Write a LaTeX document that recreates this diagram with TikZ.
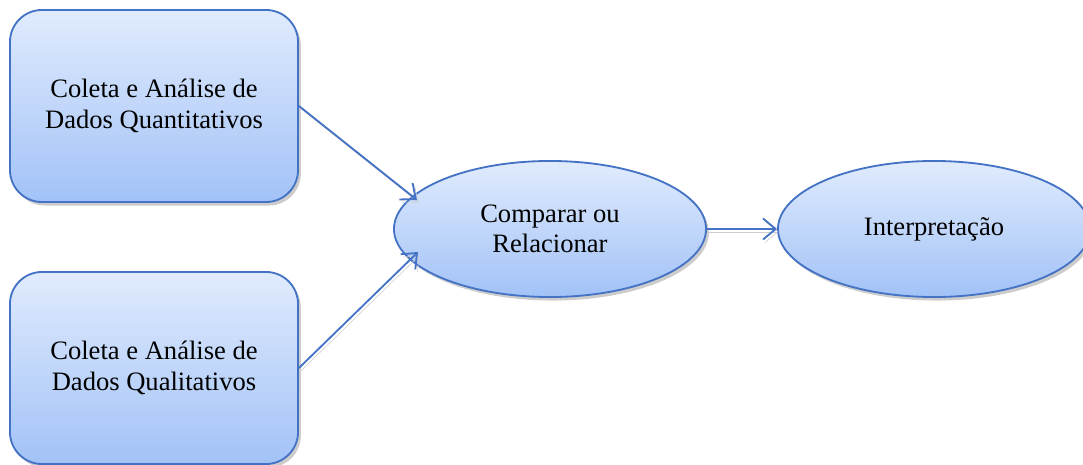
\documentclass[tikz,border=0pt]{standalone}
\usepackage{fontspec}
\setmainfont{Liberation Serif}
\usetikzlibrary{arrows.meta,shapes.geometric,shadows,calc}
\definecolor{borda}{RGB}{68,114,196}
\definecolor{topo}{RGB}{224,235,253}
\definecolor{fundo}{RGB}{162,194,247}
\definecolor{sombra}{RGB}{170,170,170}

\begin{document}
\begin{tikzpicture}[x=0.025cm,y=-0.025cm,
  font=\fontsize{18.9}{21.7}\selectfont,
  caixa/.style={draw=borda,line width=1.3pt,rounded corners=0.8cm,top color=topo,bottom color=fundo,
    minimum width=7.2cm,minimum height=4.8cm,align=center,
    drop shadow={shadow xshift=2pt,shadow yshift=-2.5pt,fill=sombra,opacity=.6}},
  elipse/.style={ellipse,draw=borda,line width=1.3pt,top color=topo,bottom color=fundo,
    minimum width=7.8cm,minimum height=3.4cm,inner sep=0pt,align=center,
    drop shadow={shadow xshift=2pt,shadow yshift=-2.5pt,fill=sombra,opacity=.6}},
  seta/.style={draw=borda,line width=1.3pt,-{Straight Barb[length=9pt,width=15pt,line width=1.3pt]},
    preaction={draw=sombra!60,transform canvas={shift={(1.5pt,-2pt)}}}}]
\useasboundingbox (0,0) rectangle (1083,465);
% caixas de coleta
\node[caixa] (quant) at (154,106) {Coleta e Análise de\\Dados Quantitativos};
\node[caixa] (qual) at (154,368) {Coleta e Análise de\\Dados Qualitativos};
% elipses
\node[elipse] (comp) at (550,229) {Comparar ou\\Relacionar};
\node[elipse] (interp) at (934,229) {Interpretação};
% pontas das setas, um pouco dentro da elipse
\coordinate (entraA) at ($(comp.center)+(-133,-29)$);
\coordinate (entraB) at ($(comp.center)+(-132,23)$);
% setas
\draw[seta] (quant.east) -- (entraA);
\draw[seta] (qual.east) -- (entraB);
\draw[seta] (comp.east) -- (interp.west);
\end{tikzpicture}
\end{document}
